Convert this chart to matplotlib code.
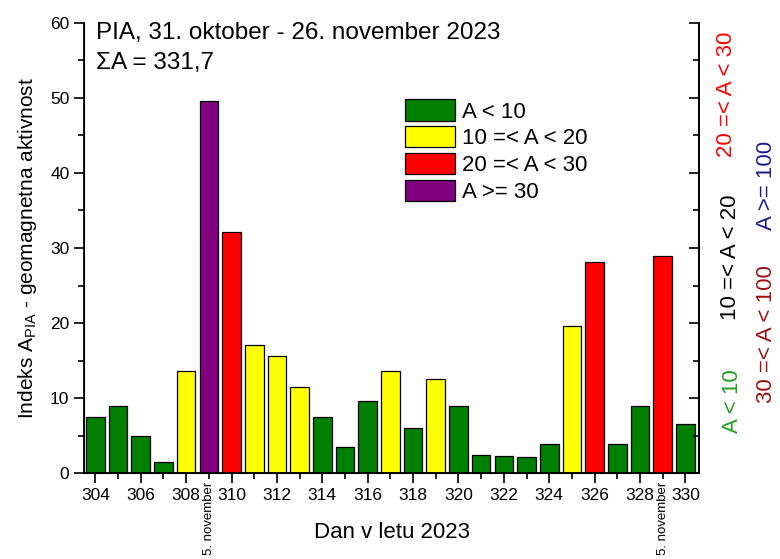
import matplotlib
matplotlib.use("Agg")
import matplotlib.pyplot as plt
from matplotlib.patches import Patch
from matplotlib.ticker import MultipleLocator
import matplotlib.transforms as mtransforms

plt.rcParams['font.family'] = ['Liberation Sans', 'DejaVu Sans']
plt.rcParams['mathtext.default'] = 'regular'

days = list(range(304, 331))
a_index = [7.5, 9.0, 4.9, 1.5, 13.6, 49.6, 32.1, 17.1, 15.6, 11.5, 7.5, 3.5, 9.6, 13.6,
           6.0, 12.5, 9.0, 2.4, 2.3, 2.1, 3.9, 19.6, 28.1, 3.9, 9.0, 29.0, 6.6]
bar_class = ['g', 'g', 'g', 'g', 'y', 'p', 'r', 'y', 'y', 'y', 'g', 'g', 'g', 'y',
             'g', 'y', 'g', 'g', 'g', 'g', 'g', 'y', 'r', 'g', 'g', 'r', 'g']
class_colors = {'g': '#008000', 'y': '#ffff00', 'r': '#ff0000', 'p': '#800080'}
legend_labels = ['A < 10', '10 =< A < 20', '20 =< A < 30', 'A >= 30']
marked_days = [309, 329]
marked_label = '5. november'

fig = plt.figure(figsize=(7.8, 5.59), dpi=100)
ax = fig.add_axes([0.1077, 0.1538, 0.7885, 0.8051])

ax.bar(days, a_index, width=0.82, color=[class_colors[c] for c in bar_class],
       edgecolor='black', linewidth=0.9, zorder=2)

ax.set_xlim(303.5, 330.6)
ax.set_ylim(0, 60)
ax.xaxis.set_major_locator(MultipleLocator(2))
ax.xaxis.set_minor_locator(MultipleLocator(1))
ax.yaxis.set_major_locator(MultipleLocator(10))
ax.yaxis.set_minor_locator(MultipleLocator(5))
ax.tick_params(which='major', direction='out', length=7, width=1.2, labelsize=12.5, right=False, top=False)
ax.tick_params(which='minor', direction='out', length=4, width=1.2, right=False, top=False)
ax.spines['top'].set_visible(False)
for s in ['left', 'bottom', 'right']:
    ax.spines[s].set_linewidth(1.3)

# right spine: ticks pointing inward, no labels
ax2 = ax.twinx()
ax2.set_ylim(0, 60)
ax2.yaxis.set_major_locator(MultipleLocator(10))
ax2.yaxis.set_minor_locator(MultipleLocator(5))
ax2.tick_params(which='major', direction='in', length=7, width=1.2, labelright=False)
ax2.tick_params(which='minor', direction='in', length=4, width=1.2, labelright=False)
ax2.spines['top'].set_visible(False)
ax2.spines['right'].set_linewidth(1.3)

ax.set_xlabel('Dan v letu 2023', fontsize=16, labelpad=14)
ax.set_ylabel('Indeks A$_{PIA}$ - geomagnetna aktivnost', fontsize=15, labelpad=8)

ax.text(0.02, 0.978, 'PIA, 31. oktober - 26. november 2023', transform=ax.transAxes,
        fontsize=17.5, va='center', ha='left')
ax.text(0.02, 0.911, '\u03a3A = 331,7', transform=ax.transAxes,
        fontsize=17.5, va='center', ha='left')

handles = [Patch(facecolor=class_colors[c], edgecolor='black', linewidth=0.9) for c in 'gyrp']
ax.legend(handles, legend_labels, loc='upper left', bbox_to_anchor=(0.522, 0.83),
          frameon=False, fontsize=16, handlelength=2.25, handleheight=1.08,
          labelspacing=0.17, handletextpad=0.3, borderpad=0, borderaxespad=0)

trans = mtransforms.blended_transform_factory(ax.transData, ax.transAxes)
for d in marked_days:
    ax.text(d, -0.02, marked_label, transform=trans, rotation=90, fontsize=9.5,
            ha='center', va='top')

side = [(727, 94, '20 =< A < 30', '#ff0000'),
        (730, 257, '10 =< A < 20', 'black'),
        (732, 401, 'A < 10', '#1ea01e'),
        (767, 185, 'A >= 100', '#1c1c8c'),
        (767, 334, '30 =< A < 100', '#9b1010')]
for x, y, s, c in side:
    fig.text(x / 780, 1 - y / 559, s, rotation=90, fontsize=16, color=c,
             ha='center', va='center')

fig.savefig('out.png', dpi=100)
